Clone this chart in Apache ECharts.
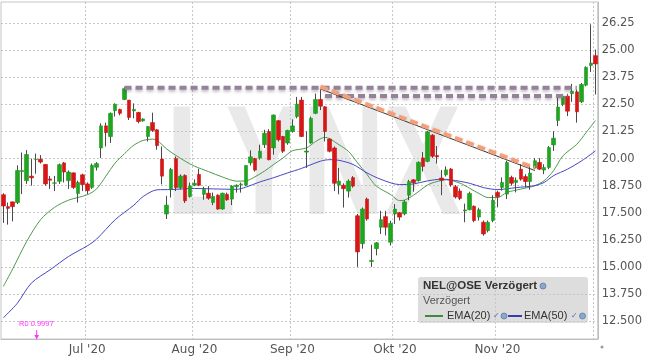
<!DOCTYPE html>
<html><head><meta charset="utf-8">
<script src="https://cdn.jsdelivr.net/npm/echarts@6/dist/echarts.min.js"></script>
<style>html,body{margin:0;padding:0;background:#fff}#c{width:645px;height:358px}</style>
</head><body><div id="c"></div>
<script>
const dates = [
'2020-06-05','2020-06-08','2020-06-09','2020-06-10','2020-06-11','2020-06-12','2020-06-15','2020-06-16','2020-06-17','2020-06-18','2020-06-19','2020-06-22','2020-06-23','2020-06-24','2020-06-25','2020-06-26','2020-06-29','2020-06-30',
'2020-07-01','2020-07-02','2020-07-03','2020-07-06','2020-07-07','2020-07-08','2020-07-09','2020-07-10','2020-07-13','2020-07-14','2020-07-15','2020-07-16','2020-07-17','2020-07-20','2020-07-21','2020-07-22','2020-07-23','2020-07-24','2020-07-27','2020-07-28','2020-07-29','2020-07-30','2020-07-31',
'2020-08-03','2020-08-04','2020-08-05','2020-08-06','2020-08-07','2020-08-10','2020-08-11','2020-08-12','2020-08-13','2020-08-14','2020-08-17','2020-08-18','2020-08-19','2020-08-20','2020-08-21','2020-08-24','2020-08-25','2020-08-26','2020-08-27','2020-08-28','2020-08-31',
'2020-09-01','2020-09-02','2020-09-03','2020-09-04','2020-09-07','2020-09-08','2020-09-09','2020-09-10','2020-09-11','2020-09-14','2020-09-15','2020-09-16','2020-09-17','2020-09-18','2020-09-21','2020-09-22','2020-09-23','2020-09-24','2020-09-25','2020-09-28','2020-09-29','2020-09-30',
'2020-10-01','2020-10-02','2020-10-05','2020-10-06','2020-10-07','2020-10-08','2020-10-09','2020-10-12','2020-10-13','2020-10-14','2020-10-15','2020-10-16','2020-10-19','2020-10-20','2020-10-21','2020-10-22','2020-10-23','2020-10-26','2020-10-27','2020-10-28','2020-10-29','2020-10-30',
'2020-11-02','2020-11-03','2020-11-04','2020-11-05','2020-11-06','2020-11-09','2020-11-10','2020-11-11','2020-11-12','2020-11-13','2020-11-16','2020-11-17','2020-11-18','2020-11-19','2020-11-20','2020-11-23','2020-11-24','2020-11-25','2020-11-26','2020-11-27','2020-11-30',
'2020-12-01'];

const open = [
18.33,17.78,18.00,17.97,19.40,18.98,19.19,19.95,19.97,19.73,19.06,18.86,18.95,19.80,18.98,19.34,18.39,19.25,
18.83,18.67,19.60,20.49,21.51,21.02,22.21,22.27,22.73,22.70,22.20,22.13,21.74,21.02,21.66,21.33,19.98,17.44,18.58,20.00,18.66,19.22,18.25,
18.77,19.27,18.35,18.40,17.97,18.31,17.67,18.35,18.13,18.70,18.80,18.77,19.80,20.00,20.03,20.64,21.25,20.49,21.75,21.02,20.72,
21.25,21.94,22.70,20.30,20.72,22.09,22.73,22.39,20.90,20.49,18.77,18.77,18.50,19.12,17.36,16.07,18.13,15.25,15.84,16.83,17.32,16.14,
17.44,17.50,17.45,18.31,19.02,18.98,20.03,19.87,21.08,20.14,19.10,19.25,19.52,18.70,18.50,17.58,17.64,17.80,17.30,17.06,16.67,17.14,
18.44,18.67,18.36,19.13,18.90,19.51,19.17,18.94,19.56,19.82,19.47,19.59,20.63,21.76,22.50,22.88,23.00,23.08,22.62,23.39,24.30,
24.75];
const high = [
18.40,17.97,18.02,19.69,20.28,20.39,20.00,20.23,20.16,19.75,19.20,19.20,19.77,19.84,19.45,19.36,18.98,19.30,
18.90,19.77,19.84,21.63,21.66,22.13,22.55,22.30,23.30,22.70,22.55,22.16,21.86,21.50,22.12,21.36,20.56,18.28,19.57,20.10,19.27,19.27,18.89,
19.04,19.53,18.70,18.73,18.43,18.35,18.43,18.43,18.77,18.81,18.89,19.70,20.38,20.03,20.64,21.33,21.36,22.04,21.78,21.05,21.33,
21.81,22.85,22.85,21.26,21.94,23.00,23.19,22.42,20.94,20.56,19.57,18.86,19.04,19.19,17.44,17.74,18.20,16.02,16.15,17.59,17.59,17.13,
17.90,17.53,18.08,19.02,19.05,19.87,20.30,21.28,21.13,20.58,19.48,19.64,19.56,18.78,18.62,17.92,18.47,17.84,17.73,17.14,17.14,18.31,
18.52,19.13,19.90,19.21,19.13,19.74,19.28,19.67,20.02,20.02,19.74,20.58,21.27,22.80,22.99,22.99,23.45,23.19,23.49,24.26,26.20,
25.03];
const low = [
17.03,16.95,17.10,17.90,18.36,18.83,18.75,19.30,19.77,18.75,18.60,18.50,18.83,18.90,18.60,18.60,17.97,18.50,
18.36,18.60,19.45,20.03,20.56,20.72,21.94,22.00,22.70,21.78,21.86,21.63,21.70,20.79,21.23,20.41,18.81,17.21,18.20,18.50,18.58,17.95,18.20,
18.73,18.73,18.10,18.10,17.85,17.64,17.64,18.05,17.85,18.43,18.43,18.73,19.68,19.40,19.95,20.49,19.92,20.18,20.79,20.26,20.64,
21.20,21.86,21.00,19.57,20.69,22.05,22.24,20.79,20.29,18.50,18.35,17.74,18.20,18.66,15.00,15.84,17.13,15.00,15.53,16.52,16.45,15.99,
16.98,17.14,17.38,18.08,18.47,18.94,19.41,19.83,20.03,19.77,18.31,19.17,18.70,18.16,18.08,17.06,17.61,17.06,17.14,16.44,16.59,17.06,
17.75,18.52,18.13,18.75,18.44,18.98,18.67,18.56,19.51,19.47,19.28,19.51,20.35,21.50,22.42,21.96,22.62,21.66,22.57,23.34,24.00,
22.96];
const close = [
17.81,17.70,17.78,19.45,19.45,20.19,19.11,19.97,19.84,18.83,19.00,18.88,19.72,19.38,19.38,18.67,18.90,18.80,
18.52,19.69,19.77,21.51,21.20,22.09,22.51,22.09,23.23,21.90,22.27,21.71,21.83,21.48,21.30,20.60,19.19,17.85,19.50,18.66,19.19,18.05,18.74,
18.86,18.77,18.58,18.17,18.25,17.67,18.40,18.10,18.73,18.77,18.82,19.68,20.08,19.47,20.34,21.17,19.95,22.01,20.87,20.34,21.30,
21.51,22.52,21.02,20.35,21.86,22.73,22.42,21.25,20.34,18.86,18.96,18.61,18.96,18.73,15.69,17.67,17.21,15.30,16.11,17.18,16.83,17.01,
17.67,17.30,18.00,18.94,18.89,19.83,19.64,21.23,20.11,20.08,19.00,19.48,18.78,18.23,18.16,17.63,18.39,17.14,17.64,16.52,17.06,18.08,
18.24,18.90,19.82,18.86,19.00,19.05,18.94,19.33,19.90,19.51,19.59,20.51,20.94,22.38,22.88,22.19,23.11,22.16,23.42,24.21,24.41,
24.37];

// EMA values at sample dates
const ema20 = [
['2020-06-05',14.10],['2020-06-09',14.90],['2020-06-12',16.17],['2020-06-17',17.18],['2020-06-22',17.75],['2020-06-25',18.08],
['2020-07-01',18.33],['2020-07-03',18.60],['2020-07-07',19.19],['2020-07-09',19.80],['2020-07-13',20.23],['2020-07-15',20.62],
['2020-07-17',20.84],['2020-07-21',20.90],['2020-07-22',20.84],['2020-07-24',20.45],['2020-07-28',20.15],['2020-07-30',19.88],
['2020-08-03',19.65],['2020-08-06',19.40],['2020-08-11',19.15],['2020-08-14',18.96],['2020-08-18',18.97],['2020-08-20',19.16],
['2020-08-24',19.42],['2020-08-26',19.73],['2020-08-28',20.03],['2020-09-01',20.36],['2020-09-04',20.49],['2020-09-08',20.79],
['2020-09-10',20.98],['2020-09-11',20.92],['2020-09-15',20.64],['2020-09-17',20.34],['2020-09-21',19.80],['2020-09-23',19.27],
['2020-09-25',18.73],['2020-09-30',18.35],['2020-10-02',18.06],['2020-10-05',18.08],['2020-10-07',18.31],['2020-10-12',18.78],
['2020-10-14',18.94],['2020-10-16',19.02],['2020-10-21',18.86],['2020-10-23',18.63],['2020-10-27',18.39],['2020-10-29',18.20],
['2020-11-02',18.20],['2020-11-04',18.44],['2020-11-09',18.59],['2020-11-12',18.75],['2020-11-16',18.98],['2020-11-18',19.44],
['2020-11-20',20.12],['2020-11-25',20.66],['2020-11-27',21.20],['2020-12-01',21.76]];
const ema50 = [
['2020-06-05',12.65],['2020-06-10',13.32],['2020-06-15',14.25],['2020-06-19',14.86],['2020-06-25',15.48],['2020-07-01',15.97],
['2020-07-03',16.28],['2020-07-09',17.18],['2020-07-15',17.85],['2020-07-17',18.25],['2020-07-22',18.56],['2020-07-27',18.57],
['2020-08-03',18.62],['2020-08-07',18.60],['2020-08-14',18.58],['2020-08-18',18.68],['2020-08-21',18.92],['2020-08-26',19.12],
['2020-08-31',19.34],['2020-09-03',19.55],['2020-09-09',19.88],['2020-09-11',19.95],['2020-09-15',19.92],['2020-09-18',19.73],
['2020-09-23',19.34],['2020-09-28',19.04],['2020-10-02',18.80],['2020-10-07',18.83],['2020-10-12',18.97],['2020-10-15',19.05],
['2020-10-19',19.02],['2020-10-23',18.86],['2020-10-28',18.66],['2020-11-02',18.57],['2020-11-06',18.66],['2020-11-12',18.75],
['2020-11-16',18.90],['2020-11-18',19.21],['2020-11-23',19.51],['2020-11-26',19.89],['2020-12-01',20.35]];

// Drawn lines (resistance + trend), in date/price terms
const resistanceUpper = [['2020-07-13',23.27],['2020-11-25',23.27]];
const resistanceLower = [['2020-09-10',22.89],['2020-11-23',22.89]];
const trendSolid = [['2020-09-09',23.22],['2020-11-12',19.45]];
const trendDashed = [['2020-09-09',23.32],['2020-11-12',19.56]];

const monthLabels = {'2020-07-01':"Jul '20",'2020-08-03':"Aug '20",'2020-09-01':"Sep '20",'2020-10-01':"Okt '20",'2020-11-02':"Nov '20"};
const monthGrid = ['2020-07-01','2020-08-03','2020-09-01','2020-10-01','2020-11-02','2020-12-01'];
const yTicks = [12.5,13.75,15,16.25,17.5,18.75,20,21.25,22.5,23.75,25,26.25];
const yTickLabels = ['12.500','13.750','15.000','16.250','17.500','18.750','20.00','21.25','22.50','23.75','25.00','26.25'];

const wickData = dates.map((d,i)=>[open[i],close[i],low[i],high[i]]);
const bodyData = dates.map((d,i)=>[open[i],close[i],Math.min(open[i],close[i]),Math.max(open[i],close[i])]);

const chart = echarts.init(document.getElementById('c'), null, {renderer:'canvas'});
const axisFont = 'DejaVu Sans';
const legFont = '"Liberation Sans", Arial, sans-serif';
chart.setOption({
  animation:false,
  backgroundColor:'#ffffff',
  grid:{left:1, top:2, right:47, bottom:19, show:true, borderColor:'#c4c4c4', borderWidth:1},
  xAxis:{
    type:'category', data:dates, boundaryGap:true,
    axisLine:{show:true, lineStyle:{color:'#bdbdbd'}},
    axisTick:{show:false},
    axisLabel:{interval:(i,v)=>v in monthLabels, formatter:v=>monthLabels[v]||'', color:'#555', fontFamily:axisFont, fontSize:12, margin:5},
    splitLine:{show:true, interval:(i,v)=>monthGrid.indexOf(v)>=0, lineStyle:{color:'#c6c6c6', type:[2,2], width:1}}
  },
  yAxis:{
    type:'value', position:'right', min:11.67, max:27.23, scale:true,
    axisLine:{show:true, lineStyle:{color:'#bdbdbd'}},
    axisTick:{show:false, customValues:yTicks},
    axisLabel:{customValues:yTicks, color:'#555', fontFamily:axisFont, fontSize:11.5, margin:4,
      formatter:v=>{const k=yTicks.findIndex(t=>Math.abs(t-v)<1e-6); return k>=0?yTickLabels[k]:'';}},
    splitLine:{show:true, lineStyle:{color:'#c6c6c6', type:[2,2], width:1}}
  },
  series:[
    {name:'EMA(20)', type:'line', data:ema20, symbol:'none', smooth:0.3, lineStyle:{color:'#4f9a4f', width:1}, z:1},
    {name:'EMA(50)', type:'line', data:ema50, symbol:'none', smooth:0.3, lineStyle:{color:'#4646c4', width:1}, z:1},
    {name:'wick', type:'candlestick', data:wickData, barWidth:1,
      itemStyle:{color:'#4a4a4a', color0:'#4a4a4a', borderColor:'#4a4a4a', borderColor0:'#4a4a4a', borderWidth:1}, z:3},
    {name:'NEL@OSE', type:'candlestick', data:bodyData, barWidth:4,
      itemStyle:{color:'#1fa51f', color0:'#d91616', borderColor:'#1a9a1a', borderColor0:'#cc1010', borderWidth:0.6}, z:4},
    {name:'resUpper', type:'line', data:resistanceUpper, symbol:'none', z:6,
      lineStyle:{color:'#938299', width:4, type:[7,4], shadowColor:'rgba(80,60,80,0.35)', shadowBlur:3, shadowOffsetY:2}},
    {name:'resLower', type:'line', data:resistanceLower, symbol:'none', z:6,
      lineStyle:{color:'#938299', width:4, type:[7,4], shadowColor:'rgba(80,60,80,0.35)', shadowBlur:3, shadowOffsetY:2}},
    {name:'trendSolid', type:'line', data:trendSolid, symbol:'none', z:6, lineStyle:{color:'#333', width:1}},
    {name:'trendDashed', type:'line', data:trendDashed, symbol:'none', z:7,
      lineStyle:{color:'#f2a07c', width:4, type:[8,4], shadowColor:'rgba(200,120,90,0.3)', shadowBlur:2}}
  ],
  graphic:[
    {type:'text', z:-1, x:166, y:171, scaleX:0.735, silent:true,
      style:{text:'LYNX', font:'bold 156px "Liberation Sans", Arial', fill:'#e9e9e9', verticalAlign:'middle'}},
    {type:'rect', z:50, shape:{x:418, y:277, width:170, height:46, r:3}, style:{fill:'rgba(200,200,200,0.62)'}},
    {type:'text', z:51, x:423, y:286, style:{text:'NEL@OSE Verzögert', font:'bold 11.5px '+legFont, fill:'#333', verticalAlign:'middle'}},
    {type:'circle', z:51, shape:{cx:543, cy:286, r:3}, style:{fill:'#8ea6c8', stroke:'#5b7cab', lineWidth:0.8}},
    {type:'text', z:51, x:423, y:301, style:{text:'Verzögert', font:'11px '+legFont, fill:'#555', verticalAlign:'middle'}},
    {type:'line', z:51, shape:{x1:425, y1:316, x2:443, y2:316}, style:{stroke:'#3d8a3d', lineWidth:2}},
    {type:'text', z:51, x:447, y:316, style:{text:'EMA(20)', font:'11px '+legFont, fill:'#333', verticalAlign:'middle'}},
    {type:'text', z:51, x:493, y:316, style:{text:'✓', font:'8px '+legFont, fill:'#4a6fb5', verticalAlign:'middle'}},
    {type:'circle', z:51, shape:{cx:504, cy:316, r:3}, style:{fill:'#8ea6c8', stroke:'#5b7cab', lineWidth:0.8}},
    {type:'line', z:51, shape:{x1:508, y1:316, x2:522, y2:316}, style:{stroke:'#3a3ab4', lineWidth:2}},
    {type:'text', z:51, x:524, y:316, style:{text:'EMA(50)', font:'11px '+legFont, fill:'#333', verticalAlign:'middle'}},
    {type:'text', z:51, x:571, y:316, style:{text:'✓', font:'8px '+legFont, fill:'#4a6fb5', verticalAlign:'middle'}},
    {type:'circle', z:51, shape:{cx:582.5, cy:316, r:3}, style:{fill:'#8ea6c8', stroke:'#5b7cab', lineWidth:0.8}},
    {type:'text', z:51, x:19, y:324, style:{text:'R0 0.9997', font:'7.5px '+legFont, fill:'#ff33ff', verticalAlign:'middle'}},
    {type:'line', z:51, shape:{x1:36.7, y1:330, x2:36.7, y2:336}, style:{stroke:'#ff33ff', lineWidth:1}},
    {type:'polygon', z:51, shape:{points:[[34.4,335],[39,335],[36.7,339.5]]}, style:{fill:'#ff33ff'}},
    {type:'circle', z:51, shape:{cx:602, cy:347, r:1.5}, style:{fill:'#999'}}
  ]
});
</script></body></html>
